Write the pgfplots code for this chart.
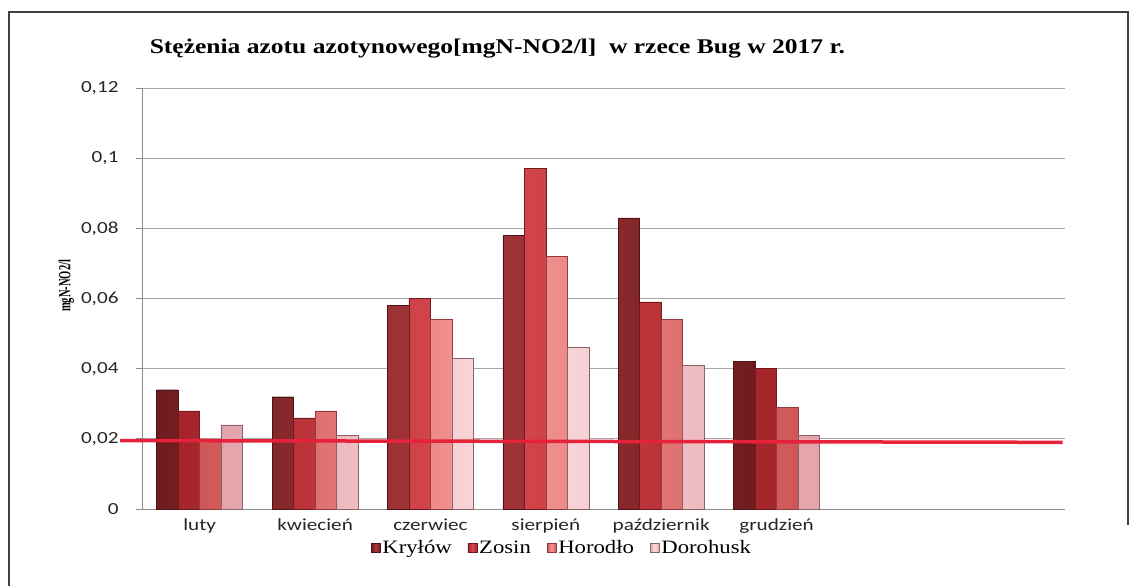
\documentclass[border=0pt]{standalone}
\usepackage{pgfplots}
\pgfplotsset{compat=1.18}
\usepackage{graphicx}
\usepackage{fontspec}
\setmainfont{Liberation Serif}
\newfontfamily\titlefont{Liberation Serif Bold}[FakeStretch=1.22]
\newfontfamily\carlito{Carlito}
\newfontfamily\ylabfont{Liberation Serif Bold}[FakeStretch=0.62]
\newcommand{\legtxt}[1]{\scalebox{1.2}[1]{#1}}
\newcommand{\sx}[1]{\scalebox{1.25}[1]{#1}}
\definecolor{cK}{HTML}{6E1C1F}
\definecolor{cKl}{HTML}{A8383B}
\definecolor{cZ}{HTML}{A3242A}
\definecolor{cZl}{HTML}{DA4A50}
\definecolor{cH}{HTML}{CF5656}
\definecolor{cHl}{HTML}{F59A98}
\definecolor{cD}{HTML}{E3A3AA}
\definecolor{cDl}{HTML}{FBDDE0}
\definecolor{cLine}{HTML}{E5223A}
\begin{document}
\begin{tikzpicture}[x=1bp,y=1bp]
\useasboundingbox (0,0) rectangle (1136,586);
\draw[black!75, line width=1.3bp] (9,0) -- (9,574) -- (1128,574) -- (1128,61);
\begin{axis}[
  at={(142bp,77bp)}, anchor=south west,
  scale only axis, width=923bp, height=421bp,
  xmin=0, xmax=8, ymin=0, ymax=0.12,
  axis lines=left, axis line style={black!45, line width=0.8bp, -},
  ybar=0pt, bar width=21.5bp,
  ytick={0,0.02,...,0.121},
  yticklabels={{\sx{0}},{\sx{0,02}},{\sx{0,04}},{\sx{0,06}},{\sx{0,08}},{\sx{0,1}},{\sx{0,12}}},
  ymajorgrids, grid style={black!35, line width=0.7bp},
  xtick={0.5,1.5,...,5.5},
  xticklabels={{\sx{luty}},{\sx{kwiecień}},{\sx{czerwiec}},{\sx{sierpień}},{\sx{październik}},{\sx{grudzień}}},
  major x tick style={draw=none},
  extra x ticks={0,1,...,8}, extra x tick labels={},
  extra x tick style={major tick length=6bp, tick style={black!45, line width=0.8bp}, grid=none},
  tick align=outside, major tick length=6bp,
  y tick style={black!45, line width=0.8bp},
  tick label style={font=\carlito\fontsize{17}{19}\selectfont, text=black!85},
  yticklabel style={xshift=-14bp},
  /pgf/number format/assume math mode=true,
  ylabel={mgN-NO2/l},
  ylabel style={font=\ylabfont\fontsize{17}{19}\selectfont, at={(axis description cs:-0.082,0.53)}, anchor=center},
  title={Stężenia azotu azotynowego[mgN-NO2/l]\ \ w rzece Bug w 2017 r.},
  title style={font=\titlefont\fontsize{21}{24}\selectfont, at={(axis description cs:0.385,1.08)}, anchor=center},
  legend columns=4,
  legend style={draw=none, fill=none, at={(0.455,-0.093)}, anchor=center, font=\rmfamily\fontsize{19}{21}\selectfont, /tikz/every even column/.append style={column sep=14bp}},
  legend image code/.code={\draw[#1] (0bp,-4.5bp) rectangle (9bp,4.5bp);},
  clip=false,
]
\addplot[draw=cK!70!black, shade, left color=cK, right color=cK, middle color=cKl] coordinates {(0.5,0.034) (1.5,0.032) (2.5,0.058) (3.5,0.078) (4.5,0.083) (5.5,0.042)};
\addplot[draw=cZ!70!black, shade, left color=cZ, right color=cZ, middle color=cZl] coordinates {(0.5,0.028) (1.5,0.026) (2.5,0.060) (3.5,0.097) (4.5,0.059) (5.5,0.040)};
\addplot[draw=cH!70!black, shade, left color=cH, right color=cH, middle color=cHl] coordinates {(0.5,0.020) (1.5,0.028) (2.5,0.054) (3.5,0.072) (4.5,0.054) (5.5,0.029)};
\addplot[draw=cD!60!black, shade, left color=cD, right color=cD, middle color=cDl] coordinates {(0.5,0.024) (1.5,0.021) (2.5,0.043) (3.5,0.046) (4.5,0.041) (5.5,0.021)};
\legend{\legtxt{Kryłów},\legtxt{Zosin},\legtxt{Horodło},\legtxt{Dorohusk}}
\addplot[sharp plot, no markers, draw=cLine, line width=3.5bp, forget plot] coordinates {(-0.19,0.0195) (7.98,0.019)};
\end{axis}
\end{tikzpicture}
\end{document}
